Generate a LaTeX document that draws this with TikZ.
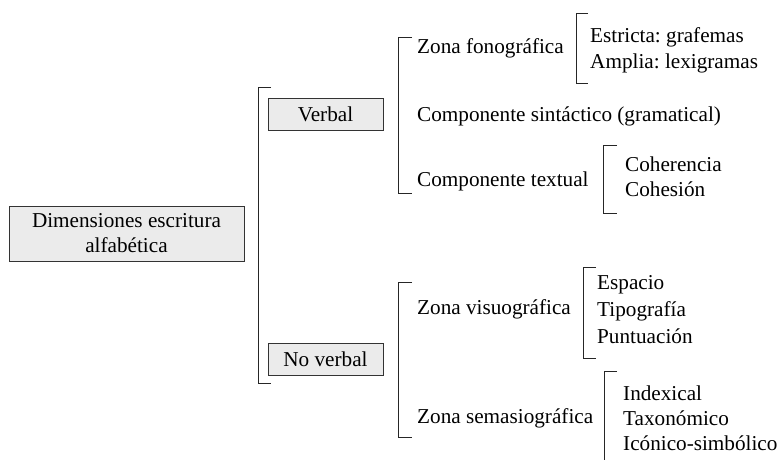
\documentclass[tikz,border=0pt]{standalone}
\usepackage{fontspec}
\setmainfont{Liberation Serif}
\frenchspacing
\begin{document}
\begin{tikzpicture}[x=1pt,y=-1pt,
  txt/.style={font=\fontsize{21.2}{25}\selectfont},
  box/.style={draw=black!80,fill=black!8,line width=0.8pt,inner sep=0pt,align=center,txt},
  lbl/.style={anchor=west,inner sep=0pt,txt},
  brk/.style={draw=black!85,line width=0.9pt}]
\useasboundingbox (0,0) rectangle (782,459);
\node[box,minimum width=235pt,minimum height=55pt] (main) at (126.5,233.5) {Dimensiones escritura\\alfabética};
\node[box,minimum width=115pt,minimum height=32pt] (verbal) at (325.5,114) {Verbal};
\node[box,minimum width=115pt,minimum height=32pt] (noverbal) at (325.5,359) {No verbal};
% main bracket
\draw[brk] (271,87) -- (258,87) -- (258,383) -- (271,383);
% verbal bracket
\draw[brk] (412,37) -- (398,37) -- (398,193) -- (412,193);
\node[lbl] (zf) at (417,48) {Zona fonográfica};
\node[lbl] (cs) at (417,116) {Componente sintáctico (gramatical)};
\node[lbl] (ct) at (417,181) {Componente textual};
\draw[brk] (588,13) -- (576,13) -- (576,83) -- (588,83);
\node[lbl] (est) at (590,37) {Estricta: grafemas};
\node[lbl] (amp) at (590,63) {Amplia: lexigramas};
\draw[brk] (617,145) -- (603,145) -- (603,213) -- (617,213);
\node[lbl] (coh) at (625,164) {Coherencia};
\node[lbl] (cos) at (625,189) {Cohesión};
% no verbal bracket
\draw[brk] (412,282) -- (398,282) -- (398,437) -- (412,437);
\node[lbl] (zv) at (417,309) {Zona visuográfica};
\node[lbl] (zs) at (417,418) {Zona semasiográfica};
\draw[brk] (596,267) -- (583,267) -- (583,358) -- (596,358);
\node[lbl] (esp) at (597,285) {Espacio};
\node[lbl] (tip) at (597,311) {Tipografía};
\node[lbl] (pun) at (597,336) {Puntuación};
\draw[brk] (617,371) -- (604,371) -- (604,462);
\node[lbl] (ind) at (623,393) {Indexical};
\node[lbl] (tax) at (623,418) {Taxonómico};
\node[lbl] (ico) at (623,443) {Icónico-simbólico};
\end{tikzpicture}
\end{document}
